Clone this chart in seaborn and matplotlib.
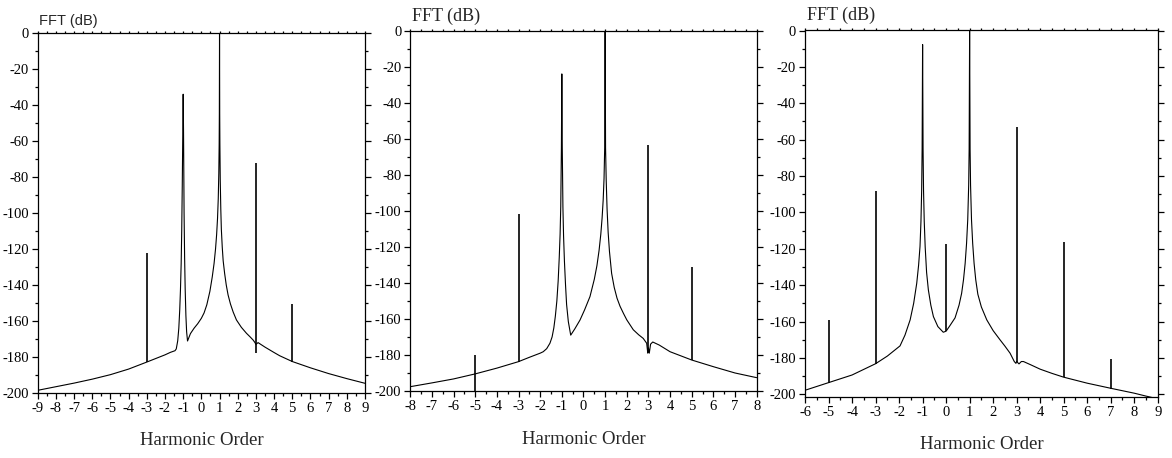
import matplotlib
matplotlib.use("Agg")
import matplotlib.pyplot as plt
import pandas as pd
import seaborn as sns
from matplotlib.ticker import MultipleLocator

# panel 1: spectrum trace (harmonic order, dB)
p1_x = [-9, -8, -7, -6, -5, -4, -3, -2.5, -2, -1.7, -1.45, -1.38, -1.3, -1.24, -1.19,
        -1.15, -1.11, -1.08, -1.05, -1.02, -1.0, -0.98, -0.95, -0.92, -0.89, -0.85,
        -0.81, -0.76, -0.6, -0.4, -0.2, 0, 0.15, 0.3, 0.47, 0.6, 0.7, 0.78, 0.84, 0.89,
        0.93, 0.96, 0.98, 0.99, 1.0, 1.01, 1.02, 1.04, 1.07, 1.1, 1.15, 1.2, 1.28,
        1.37, 1.47, 1.6, 1.75, 1.93, 2.2, 2.48, 2.7, 2.85, 2.95, 3.0, 3.12, 3.5, 4,
        4.31, 5, 6, 7, 8, 9]
p1_y = [-198.5, -196.5, -194.5, -192.3, -189.8, -186.7, -182.8, -180.8, -178.8,
        -177.4, -176.5, -175.5, -171, -164, -154, -143, -128, -110, -85, -55, -34, -55,
        -100, -125, -142, -157, -166, -171.1, -167, -164, -161.5, -158.5, -155.5,
        -151, -143.5, -135.5, -128, -120, -112, -103, -92, -78, -62, -45, 0, -45, -62,
        -82, -98, -109, -119, -126.5, -133.5, -140, -145.5, -150.5, -155, -159.4,
        -163.5, -166.8, -169, -170.6, -172, -173, -172, -174.5, -177.5, -179.3, -182.5,
        -186, -189.2, -192, -194.6]
p1_spike_x = [-3, 3, 5]
p1_spike_top = [-122.4, -72, -150.3]
p1_spike_base = [-182.6, -178, -182.5]

# panel 2
p2_x = [-8, -7, -6, -5, -4, -3, -2.5, -2, -1.86, -1.7, -1.55, -1.45, -1.37, -1.3, -1.23,
        -1.17, -1.12, -1.08, -1.05, -1.02, -1.0, -0.98, -0.95, -0.92, -0.88, -0.83,
        -0.78, -0.7, -0.59, -0.4, -0.16, 0.05, 0.3, 0.5, 0.62, 0.72, 0.8, 0.86, 0.91,
        0.95, 0.98, 1.0, 1.02, 1.05, 1.09, 1.14, 1.2, 1.3, 1.42, 1.55, 1.69, 1.85, 2.0,
        2.3, 2.55, 2.76, 2.92, 2.97, 3.0, 3.04, 3.1, 3.2, 3.5, 4, 5, 6, 7, 8]
p2_y = [-197.6, -195.5, -193.3, -190.5, -187.3, -183.7, -181.3, -179, -178.2, -176.5,
        -173.5, -170, -165, -158.5, -150, -139, -126, -113, -97.7, -65, -24, -65, -98,
        -114, -128, -141, -152, -161.5, -169, -165.5, -160.6, -155, -147.6, -138,
        -130.5, -122, -113, -104, -94, -82, -65, 0, -65, -83, -99, -112, -122.5,
        -134.7, -142.5, -148.5, -153, -157, -160.5, -166, -168.8, -170.8, -173.5, -179,
        -176, -179, -174, -172.8, -174.5, -178.2, -182.8, -186.5, -190, -192.6]
p2_spike_x = [-5, -3, 3, 5]
p2_spike_top = [-180, -101.8, -63.5, -131]
p2_spike_base = [-200, -183.7, -179, -182.8]

# panel 3
p3_x = [-6, -5, -4, -3, -2.5, -1.96, -1.75, -1.53, -1.38, -1.25, -1.17, -1.11, -1.07,
        -1.04, -1.02, -1.0, -0.98, -0.96, -0.93, -0.89, -0.83, -0.755, -0.65, -0.54,
        -0.35, -0.12, 0.0, 0.15, 0.38, 0.55, 0.66, 0.74, 0.81, 0.87, 0.92, 0.96, 0.98,
        1.0, 1.02, 1.04, 1.08, 1.13, 1.19, 1.26, 1.35, 1.5, 1.73, 2.0, 2.29, 2.5, 2.72,
        2.9, 2.97, 3.0, 3.1, 3.2, 3.29, 3.6, 4, 4.5, 5, 6, 7, 8, 8.5, 9]
p3_y = [-197.8, -193.6, -189.4, -183.2, -179, -173.4, -167.5, -159.1, -150, -139,
        -129, -118.7, -105, -88, -65, -7.7, -65, -88, -105, -119, -133, -142.6, -151,
        -157.3, -162.8, -165.9, -165.3, -162.5, -158, -151, -144.5, -137, -128, -117,
        -104, -85, -65, 0, -65, -85, -104, -117, -128, -137, -145, -152, -159.1, -165,
        -170, -173.5, -177.4, -182, -183, -182, -183.3, -182, -182, -183.8, -186.2,
        -188.5, -190.6, -193.9, -196.7, -199.4, -201, -202.5]
p3_spike_x = [-5, -3, 0, 3, 5, 7]
p3_spike_top = [-159.4, -88.1, -117.4, -53.2, -116.5, -180.6]
p3_spike_base = [-193.6, -183.2, -165.3, -182, -190.6, -197.1]

panels = [
    dict(x=p1_x, y=p1_y, sx=p1_spike_x, st=p1_spike_top, sb=p1_spike_base,
         xlim=(-9, 9), ylim=(-200, 0), pos=[0.0322, 0.1419, 0.2792, 0.786],
         family="Liberation Sans", tsize=10.5, lpad=12),
    dict(x=p2_x, y=p2_y, sx=p2_spike_x, st=p2_spike_top, sb=p2_spike_base,
         xlim=(-8, 8), ylim=(-200, 0), pos=[0.3501, 0.1463, 0.2955, 0.7867],
         family="Liberation Serif", tsize=13, lpad=13),
    dict(x=p3_x, y=p3_y, sx=p3_spike_x, st=p3_spike_top, sb=p3_spike_base,
         xlim=(-6, 9), ylim=(-201.5, 0.3), pos=[0.6869, 0.1332, 0.3009, 0.8013],
         family="Liberation Serif", tsize=13, lpad=12),
]

sns.set_style("ticks")
plt.rcParams["font.family"] = ["Liberation Serif", "DejaVu Serif"]
plt.rcParams["axes.unicode_minus"] = False

fig = plt.figure(figsize=(11.72, 4.58), dpi=100)

for p in panels:
    ax = fig.add_axes(p["pos"])
    df = pd.DataFrame({"order": p["x"], "db": p["y"]})
    sns.lineplot(data=df, x="order", y="db", sort=False, estimator=None,
                 color="black", linewidth=0.8, ax=ax)
    ax.vlines(p["sx"], p["sb"], p["st"], color="black", linewidth=1.2)

    ax.set_xlim(*p["xlim"])
    ax.set_ylim(*p["ylim"])
    ax.xaxis.set_major_locator(MultipleLocator(1))
    ax.xaxis.set_minor_locator(MultipleLocator(0.5))
    ax.set_yticks(range(-200, 1, 20))
    ax.yaxis.set_minor_locator(MultipleLocator(10))
    ax.tick_params(which="both", direction="out", top=True, right=True,
                   labelsize=10.5, colors="black", width=0.9, pad=2)
    ax.tick_params(which="major", length=4.5)
    ax.tick_params(which="minor", length=2.5)
    ax.tick_params(axis="x", which="both", top=True)
    ax.xaxis.set_tick_params(which="both", length=4.5)
    ax.xaxis.set_tick_params(which="minor", length=2.5)
    for t in ax.xaxis.get_major_ticks() + ax.xaxis.get_minor_ticks():
        t.tick2line.set_markersize(1.2)
    for s in ax.spines.values():
        s.set_visible(True)
        s.set_linewidth(0.9)
        s.set_color("black")

    ax.set_ylabel("")
    ax.set_xlabel("Harmonic Order", fontsize=13.5, labelpad=p["lpad"])
    ax.text(0.005, 1.015, "FFT (dB)", transform=ax.transAxes, ha="left",
            va="bottom", fontfamily=p["family"], fontsize=p["tsize"])

fig.savefig("out.png", dpi=100)
plt.close(fig)
